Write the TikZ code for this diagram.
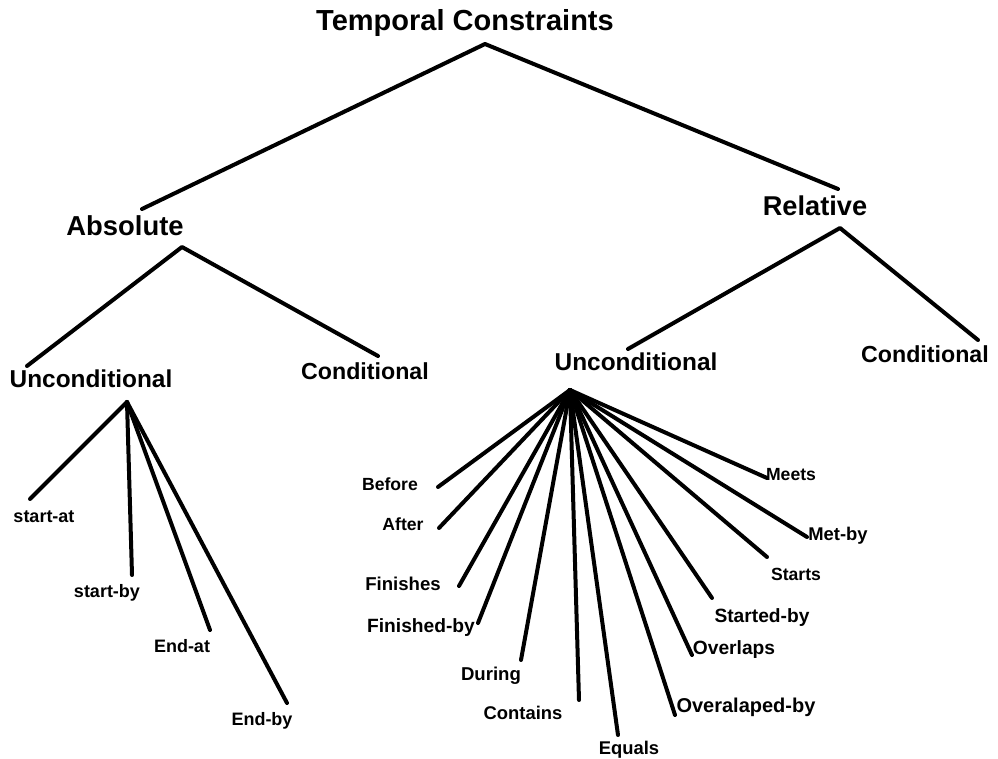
\documentclass[tikz,border=0pt]{standalone}
\usepackage{fontspec}
\setmainfont{Liberation Sans}
\begin{document}
\begin{tikzpicture}[x=0.5pt,y=-0.5pt,
  lbl/.style={inner sep=0pt,anchor=center,font=\bfseries\fontsize{#1}{#1}\selectfont,text height=0.72em,text depth=0pt},
  lbl/.default=9.3,
  edge/.style={line width=2pt,line cap=round,line join=round}]
\useasboundingbox (0,0) rectangle (998,759);
% labels
\node[lbl=14.5] (root) at (465,23) {Temporal Constraints};
\node[lbl=13.7] (abs) at (125,228) {Absolute};
\node[lbl=13.6] (rel) at (815,208) {Relative};
\node[lbl=12.2] (aunc) at (91,380) {Unconditional};
\node[lbl=11.6] (acond) at (365,372) {Conditional};
\node[lbl=12.2] (runc) at (636,363) {Unconditional};
\node[lbl=11.6] (rcond) at (925,355) {Conditional};
% left fan labels
\node[lbl=9] (sat) at (44,515) {start-at};
\node[lbl=9] (sby) at (107,590) {start-by};
\node[lbl=9] (eat) at (182,645) {End-at};
\node[lbl=9] (eby) at (262,718) {End-by};
% right fan labels
\node[lbl=8.8] (before) at (390,483) {Before};
\node[lbl=8.8] (after) at (403,523) {After};
\node[lbl=9.3] (fin) at (403,583) {Finishes};
\node[lbl=9.6] (finby) at (421,625) {Finished-by};
\node[lbl=9.3] (during) at (491,673) {During};
\node[lbl=9.2] (contains) at (523,712) {Contains};
\node[lbl=9.2] (equals) at (629,747) {Equals};
\node[lbl=10] (ovby) at (746,705) {Overalaped-by};
\node[lbl=9.6] (ov) at (734,647) {Overlaps};
\node[lbl=9.6] (stby) at (762,615) {Started-by};
\node[lbl=8.8] (starts) at (796,573) {Starts};
\node[lbl=9.2] (metby) at (838,533) {Met-by};
\node[lbl=8.8] (meets) at (791,473) {Meets};
% connector points
\coordinate (rootP) at (485,44);
\coordinate (absT) at (142,209);
\coordinate (relT) at (838,189);
\coordinate (absP) at (182,247);
\coordinate (auncT) at (27,366);
\coordinate (acondT) at (378,356);
\coordinate (relP) at (840,228);
\coordinate (runcT) at (628,349);
\coordinate (rcondT) at (978,340);
\coordinate (auncP) at (127,402);
\coordinate (satE) at (30,499);
\coordinate (sbyE) at (132,575);
\coordinate (eatE) at (210,630);
\coordinate (ebyE) at (287,703);
\coordinate (runcP) at (570,390);
\coordinate (beforeE) at (438,487);
\coordinate (afterE) at (439,528);
\coordinate (finE) at (459,586);
\coordinate (finbyE) at (478,623);
\coordinate (duringE) at (521,660);
\coordinate (containsE) at (579,700);
\coordinate (equalsE) at (618,735);
\coordinate (ovbyE) at (675,715);
\coordinate (ovE) at (692,655);
\coordinate (stbyE) at (712,598);
\coordinate (startsE) at (767,557);
\coordinate (metbyE) at (807,537);
\coordinate (meetsE) at (767,478);
% connectors
\draw[edge] (absT) -- (rootP) -- (relT);
\draw[edge] (auncT) -- (absP) -- (acondT);
\draw[edge] (runcT) -- (relP) -- (rcondT);
\foreach \e in {satE,sbyE,eatE,ebyE} \draw[edge] (auncP) -- (\e);
\foreach \e in {beforeE,afterE,finE,finbyE,duringE,containsE,equalsE,ovbyE,ovE,stbyE,startsE,metbyE,meetsE} \draw[edge] (runcP) -- (\e);
\end{tikzpicture}
\end{document}
